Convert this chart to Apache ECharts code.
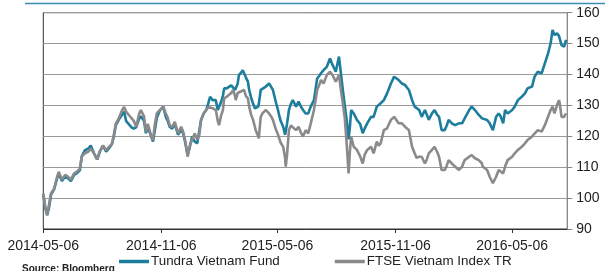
<!DOCTYPE html>
<html><head><meta charset="utf-8">
<script src="https://cdn.jsdelivr.net/npm/echarts@6/dist/echarts.min.js"></script>
<style>html,body{margin:0;padding:0;background:#fff}#c{width:605px;height:271px}</style>
</head><body><div id="c"></div>
<script>
const dates = ['2014-05-06','2014-05-09','2014-05-12','2014-05-15','2014-05-18','2014-05-23','2014-05-27','2014-05-30','2014-06-04','2014-06-09','2014-06-13','2014-06-18','2014-06-23','2014-06-27','2014-07-02','2014-07-05','2014-07-10','2014-07-15','2014-07-19','2014-07-24','2014-07-29','2014-08-02','2014-08-07','2014-08-12','2014-08-16','2014-08-21','2014-08-24','2014-08-27','2014-09-01','2014-09-06','2014-09-09','2014-09-12','2014-09-15','2014-09-20','2014-09-24','2014-09-28','2014-10-02','2014-10-05','2014-10-10','2014-10-13','2014-10-16','2014-10-19','2014-10-22','2014-10-24','2014-10-27','2014-10-30','2014-11-04','2014-11-09','2014-11-13','2014-11-16','2014-11-19','2014-11-23','2014-11-27','2014-12-02','2014-12-07','2014-12-10','2014-12-13','2014-12-16','2014-12-17','2014-12-21','2014-12-24','2014-12-28','2015-01-01','2015-01-04','2015-01-07','2015-01-11','2015-01-15','2015-01-18','2015-01-21','2015-01-25','2015-01-30','2015-02-02','2015-02-04','2015-02-07','2015-02-10','2015-02-12','2015-02-16','2015-02-19','2015-02-23','2015-02-26','2015-03-01','2015-03-02','2015-03-05','2015-03-07','2015-03-10','2015-03-13','2015-03-15','2015-03-18','2015-03-21','2015-03-23','2015-03-26','2015-03-29','2015-04-01','2015-04-02','2015-04-06','2015-04-07','2015-04-10','2015-04-13','2015-04-18','2015-04-23','2015-04-26','2015-04-29','2015-05-04','2015-05-07','2015-05-08','2015-05-11','2015-05-15','2015-05-18','2015-05-19','2015-05-21','2015-05-24','2015-05-27','2015-05-30','2015-06-04','2015-06-08','2015-06-12','2015-06-15','2015-06-19','2015-06-23','2015-06-27','2015-07-02','2015-07-07','2015-07-10','2015-07-13','2015-07-17','2015-07-22','2015-07-27','2015-07-31','2015-08-05','2015-08-10','2015-08-13','2015-08-16','2015-08-19','2015-08-21','2015-08-22','2015-08-25','2015-08-27','2015-08-29','2015-09-02','2015-09-07','2015-09-12','2015-09-16','2015-09-19','2015-09-23','2015-09-26','2015-09-29','2015-10-03','2015-10-08','2015-10-11','2015-10-14','2015-10-19','2015-10-24','2015-10-27','2015-10-30','2015-11-04','2015-11-07','2015-11-11','2015-11-16','2015-11-21','2015-11-27','2015-12-02','2015-12-06','2015-12-09','2015-12-13','2015-12-17','2015-12-22','2015-12-25','2015-12-28','2016-01-02','2016-01-06','2016-01-10','2016-01-13','2016-01-17','2016-01-22','2016-01-25','2016-01-28','2016-02-02','2016-02-07','2016-02-13','2016-02-18','2016-02-22','2016-02-29','2016-03-04','2016-03-09','2016-03-15','2016-03-20','2016-03-21','2016-03-28','2016-04-01','2016-04-06','2016-04-11','2016-04-15','2016-04-18','2016-04-22','2016-04-25','2016-04-29','2016-05-06','2016-05-10','2016-05-15','2016-05-21','2016-05-26','2016-05-30','2016-06-06','2016-06-10','2016-06-15','2016-06-21','2016-06-26','2016-07-01','2016-07-05','2016-07-08','2016-07-11','2016-07-15','2016-07-18','2016-07-19','2016-07-22','2016-07-26','2016-07-29'];
const tundra = [101,97,94.5,97,101,103,106,108,105.5,107,106.5,105.5,107.5,108,109,113.5,115.5,116,117,114.5,112.5,115,117,115,116,117.5,120,123.5,125.5,127,128,125,125,123,122.5,123,125.5,126.5,125,121,123,122.5,119.5,118.3,122,126,128.5,129.6,126.3,125,123.1,122.5,124,120.5,122,121,118.3,115,113.9,117,119.9,118.3,117.7,117.7,125.3,127.4,128.5,130.5,132.8,131.7,131.7,128.5,128.5,131,133,135.5,135.5,135.5,136.5,137.1,135,134.4,137,139.8,140.5,141.4,141,139,137.7,135,132.5,130.6,129,128.5,129.6,130.5,135,135.5,136.1,137.1,137,135,130.7,128.5,127.4,125,123.1,120.5,119.9,124,128.5,130.5,131.7,129.6,131.2,129.5,128.5,127.4,127.4,129.6,131.7,138.7,139.5,140.4,141.4,142.5,145.2,143.1,140.9,145.8,140.4,135,130,129.6,125.3,119,123,128.5,127.4,125.3,124,121,122.5,124.2,124,126.3,126.3,129.6,129,130.7,131.7,133.9,135.5,137.1,139.3,139.8,138.2,137.1,136.6,135,131.7,129.6,129,128.5,126.3,128.5,127,125.3,127.4,128.5,127,126.3,122,122,123.5,125.3,124.2,123.6,124.2,124.2,125.8,128.5,129.6,128.5,126.9,125.8,125.8,125.3,124.2,122,126.3,127.4,126.5,124.2,128.5,127.4,128.5,129.6,131.7,132.8,133.9,135.5,136.1,139.3,140.9,140.4,143.6,146.8,150.1,154.4,152.8,153.3,152.5,152.2,149.5,149,151.2];
const ftse = [101.5,97,94.5,98,101.5,103,106.5,108.5,106,107.5,107,106,108,108.5,109.5,113.5,114.5,115,116,114.5,112.5,115,117,115.5,116.5,117.5,120.5,124,126,128.5,129.5,128,128,126,125,123,127,128.5,126.5,121.5,124,124,119.5,118.8,124,127.5,128.5,129.6,127.4,126,123.6,123,124.7,121,123.1,121.5,118.8,115,113.4,117.5,118.8,120.9,119,120,125.3,127.4,128.5,129.5,129.6,129.1,128.5,125,123.6,126.5,128.5,132.3,132.8,132.8,134,135,133,131.7,134,133.9,134.5,135,135,133,132.3,129.6,127,125.3,123,122,120,119.3,126.3,127.5,128.5,127.4,126.5,125.3,122,120.5,119.9,118,116.6,113,110.2,114,122,123.5,123.6,122,123.1,121,119.9,122,120.9,124.2,128.5,135,136.5,138.2,137.1,139.8,140.9,139.8,137.7,139.8,135,130.7,126,126.3,117.7,108,115,119.9,116.6,115.6,113.5,111.2,114,115.6,115,116.6,114.5,118.3,117,117.7,122,122.6,124,125.3,126.3,126.9,124.2,124.2,123.1,122,116.6,114.5,113,113.4,113.4,111.2,112.5,114.5,115.6,116.6,115,113.4,109.1,109.1,110.5,112.3,111.2,110.2,109.1,110.2,112.3,113.4,113.9,112.9,112.3,111.2,110.2,109.1,106.9,104.8,106.9,109.1,108.5,108,110.2,112.3,113.4,114.5,115.6,116.6,117.7,118.8,119.9,120.9,122,121.5,123.6,126.3,128.5,129.6,127.4,130.1,131.7,131,126.3,126.3,127.4];
const xTickLabels = ['2014-05-06','2014-11-06','2015-05-06','2015-11-06','2016-05-06'];
const xRange = ['2014-05-06','2016-07-31'];
const seriesNames = ['Tundra Vietnam Fund','FTSE Vietnam Index TR'];

const ts = s => +echarts.time.parse(s);
const chart = echarts.init(document.getElementById('c'), null, {renderer:'canvas'});
const tickVals = xTickLabels.map(ts);
const font = 'Liberation Sans, Arial, sans-serif';
chart.setOption({
  animation:false,
  grid:{left:43.3, right:37.7, top:12.7, bottom:42, show:true, borderColor:'#333', borderWidth:1},
  graphic:[
    {type:'line', shape:{x1:25,y1:3.5,x2:605,y2:3.5}, style:{stroke:'#3a8db0', lineWidth:1.3}},
    {type:'text', left:22, top:264, style:{text:'Source: Bloomberg', font:'bold 10px '+font, fill:'#222'}}
  ],
  legend:{
    left:119, top:255, itemWidth:30, itemHeight:3.5, itemGap:55, padding:0, icon:'rect',
    textStyle:{fontFamily:font, fontSize:13.4, color:'#222', padding:[0,0,0,-3]},
    data:seriesNames
  },
  xAxis:{
    type:'value', min:ts(xRange[0]), max:ts(xRange[1]),
    splitLine:{show:false},
    axisLine:{lineStyle:{color:'#333', width:1}},
    axisTick:{show:true, customValues:tickVals, length:4, lineStyle:{color:'#333'}},
    axisLabel:{customValues:tickVals, fontFamily:font, fontSize:14, color:'#222', margin:10,
      formatter:v => xTickLabels[tickVals.indexOf(v)] || echarts.time.format(v,'{yyyy}-{MM}-{dd}', false)}
  },
  yAxis:{
    type:'value', position:'right', min:90, max:160, interval:10,
    axisLine:{show:true, lineStyle:{color:'#888'}},
    axisTick:{show:true, length:5, lineStyle:{color:'#888'}},
    splitLine:{lineStyle:{color:'#999', width:1}},
    axisLabel:{fontFamily:font, fontSize:14, color:'#222', margin:9}
  },
  series:[
    {name:seriesNames[0], type:'line', showSymbol:false, color:'#1c7d9c',
     lineStyle:{width:2.6, color:'#1c7d9c'}, data:dates.map((d,i)=>[ts(d),tundra[i]])},
    {name:seriesNames[1], type:'line', showSymbol:false, color:'#8a8a8c',
     lineStyle:{width:2.6, color:'#8a8a8c'}, data:dates.map((d,i)=>[ts(d),ftse[i]])}
  ]
});
</script></body></html>
